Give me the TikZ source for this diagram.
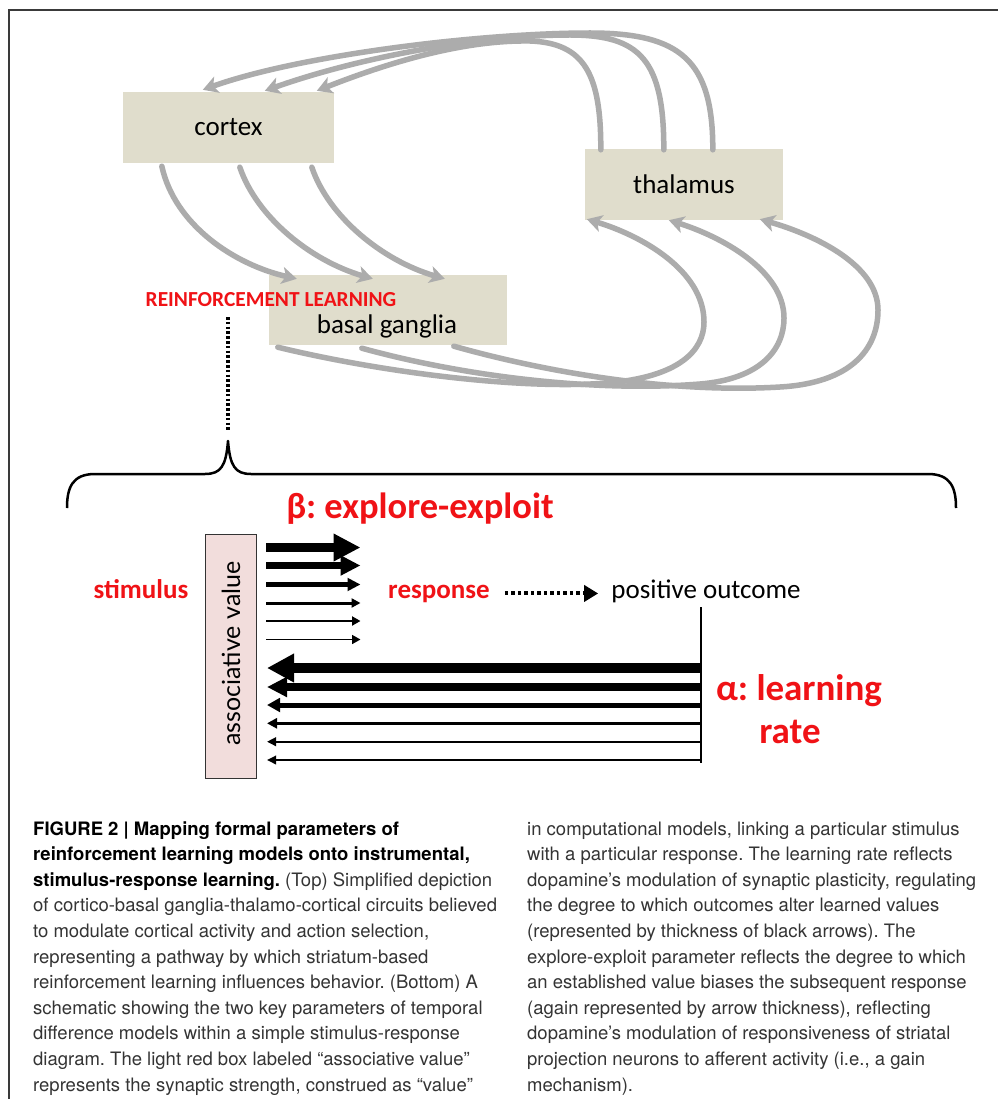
\documentclass[tikz,border=0pt]{standalone}
\usepackage{fontspec}
\usetikzlibrary{arrows.meta,calc}
\newfontfamily\diagfont{Carlito}
\newfontfamily\valuefont{Lato}
\newfontfamily\capfont{TeX Gyre Heros}
\newcommand{\fsz}[1]{\fontsize{#1}{#1}\selectfont}
\definecolor{boxfill}{RGB}{224,221,204}
\definecolor{arrowgray}{RGB}{172,172,172}
\definecolor{labelred}{RGB}{240,18,22}
\definecolor{valuefill}{RGB}{242,221,220}
\definecolor{captext}{RGB}{52,52,52}
\definecolor{framegray}{RGB}{58,58,58}
\frenchspacing

\begin{document}
\begin{tikzpicture}[x=1pt,y=-1pt,
  region/.style={fill=boxfill, inner sep=0pt, font=\diagfont\fsz{27}},
  pathway/.style={draw=arrowgray, line width=5.5pt, line cap=round,
    -{Stealth[length=15pt,width=17pt,inset=4pt]}},
  redlabel/.style={text=labelred, inner sep=0pt, anchor=base},
  plainlabel/.style={text=black, inner sep=0pt, anchor=base},
  capline/.style={anchor=base west, inner sep=0pt, text=captext,
    font=\capfont\fsz{18.5}},
  capbold/.style={capline, text=black, font=\capfont\bfseries\fsz{18.5}}
]
\useasboundingbox (0,0) rectangle (998,1099);
\fill[white] (0,0) rectangle (998,1099);

% page frame
\draw[framegray, line width=1.6pt] (9,1099) -- (9,10) -- (998,10);

% ---------- circuit: cortex, basal ganglia, thalamus ----------
\node[region, minimum width=211pt, minimum height=71pt] (cortex) at (228.5,127.5) {cortex};
\node[region, minimum width=198pt, minimum height=71pt] (thalamus) at (684,184.5) {thalamus};
\node[region, minimum width=238pt, minimum height=70pt] (bg) at (388,310) {};

% cortex -> basal ganglia
\coordinate (cs1) at ($(cortex.south west)+(39,3)$);
\coordinate (cs2) at ($(cortex.south west)+(117,4)$);
\coordinate (cs3) at ($(cortex.south west)+(189,4)$);
\coordinate (bt1) at ($(bg.north west)+(28,4)$);
\coordinate (bt2) at ($(bg.north west)+(104,4)$);
\coordinate (bt3) at ($(bg.north west)+(176,4)$);
\draw[pathway] (cs1) .. controls +(13,59) and +(-62,-14) .. (bt1);
\draw[pathway] (cs2) .. controls +(17,50) and +(-62,-18) .. (bt2);
\draw[pathway] (cs3) .. controls +(17,50) and +(-62,-18) .. (bt3);

% thalamus -> cortex
\coordinate (ts1) at ($(thalamus.north west)+(16,1)$);
\coordinate (ts2) at ($(thalamus.north west)+(79,1)$);
\coordinate (ts3) at ($(thalamus.north west)+(128,1)$);
\coordinate (ct1) at ($(cortex.north west)+(80,-2)$);
\coordinate (ct2) at ($(cortex.north west)+(142,-1)$);
\coordinate (ct3) at ($(cortex.north west)+(194,-1)$);
\draw[pathway] (ts3) .. controls (713,60) and (680,33) .. (590,33)
  .. controls (480,33) and (300,55) .. (ct1);
\draw[pathway] (ts2) .. controls (664,60) and (640,35) .. (570,35)
  .. controls (480,35) and (360,57) .. (ct2);
\draw[pathway] (ts1) .. controls (601,75) and (585,43) .. (530,41)
  .. controls (470,40) and (400,58) .. (ct3);

% basal ganglia -> thalamus
\coordinate (bs1) at ($(bg.south west)+(9,2)$);
\coordinate (bs2) at ($(bg.south west)+(93,3)$);
\coordinate (bs3) at ($(bg.south west)+(185,1)$);
\coordinate (tt1) at ($(thalamus.south west)+(2,-1)$);
\coordinate (tt2) at ($(thalamus.south west)+(84,0)$);
\coordinate (tt3) at ($(thalamus.south west)+(175,-1)$);
\draw[pathway] (bs1) .. controls (380,372) and (520,390) .. (607,383)
  .. controls (680,377) and (704,350) .. (704,322)
  .. controls (704,270) and (640,235) .. (tt1);
\draw[pathway] (bs2) .. controls (470,378) and (600,392) .. (700,384)
  .. controls (760,379) and (784,350) .. (784,318)
  .. controls (784,270) and (720,236) .. (tt2);
\draw[pathway] (bs3) .. controls (560,376) and (680,393) .. (780,387)
  .. controls (850,383) and (878,350) .. (878,310)
  .. controls (878,265) and (815,235) .. (tt3);

\node[plainlabel, font=\diagfont\fsz{27}] (bglabel) at (387,333) {basal ganglia};
\node[redlabel, font=\diagfont\bfseries\fsz{21.4}] (rl) at (271,306) {REINFORCEMENT LEARNING};

% dotted link from the label down to the brace
\coordinate (rltop) at (228,317);
\coordinate (bracetip) at (228,441);
\draw[line width=3.2pt, dash pattern=on 2.6pt off 2.2pt] (rltop) -- ($(bracetip)+(0,-11)$);

% brace over the stimulus-response scheme
\draw[line width=2.5pt, line join=round]
  (67,508) .. controls (67,488) and (72,474) .. (95,474) -- (205,474)
  .. controls (221,474) and (226,466) .. (bracetip)
  .. controls (230,466) and (235,474) .. (251,474) -- (928,474)
  .. controls (951,474) and (956,488) .. (956,508);

% ---------- stimulus-response scheme ----------
\node[redlabel, font=\diagfont\bfseries\fsz{36.5}] (beta) at (420,518) {β: explore-exploit};
\node[redlabel, font=\diagfont\bfseries\fsz{27}] (stimulus) at (141,598) {stimulus};
\node[draw=black!80, line width=1pt, fill=valuefill, inner sep=0pt,
  minimum width=51pt, minimum height=244pt] (assoc) at (230.5,656.5) {};
\node[rotate=90, inner sep=0pt, font=\valuefont\fsz{25}] (assoclabel) at (231,653.5) {associative value};
\node[redlabel, font=\diagfont\bfseries\fsz{27}] (response) at (439,598) {response};
\node[plainlabel, font=\diagfont\fsz{27}] (outcome) at (706,598) {positive outcome};
\draw[line width=4pt, dash pattern=on 3.5pt off 3pt,
  -{Triangle[length=14pt,width=16pt]}, shorten <=15pt, shorten >=13pt]
  (response.east) -- (response.east -| outcome.west);

% explore-exploit: value biases the response (thickness = gain)
\foreach \y/\lw/\hl/\hw [count=\i] in
  {547.5/8.5/27/26, 565.5/7.3/20/19, 584.5/4.3/13/12.5,
   603/3/9/9, 621/2.2/8.5/9, 639.5/1.6/8.5/9}{
  \coordinate (fs\i) at (266,\y);
  \coordinate (fe\i) at (360.5,\y);
  \draw[line width=\lw pt, -{Triangle[length=\hl pt,width=\hw pt]}] (fs\i) -- (fe\i);
}

% learning rate: outcome updates the value (thickness = rate)
\coordinate (vtop) at (701,607);
\coordinate (vbot) at (701,763);
\draw[line width=2.5pt] (vtop) -- (vbot);
\foreach \y/\lw/\hl/\hw [count=\i] in
  {668/10/27/27, 687/8/20/19, 705/5/13/13.5,
   723.3/3/10/10, 741.7/2.2/9/8.5, 760/1.8/9/8.5}{
  \coordinate (ls\i) at (701,\y);
  \coordinate (le\i) at (267,\y);
  \draw[line width=\lw pt, -{Triangle[length=\hl pt,width=\hw pt]}] (ls\i) -- (le\i);
}

\node[redlabel, font=\diagfont\bfseries\fsz{37}] (alpha) at (799,700) {α: learning};
\node[redlabel, font=\diagfont\bfseries\fsz{37}] (alpharate) at (790,743) {rate};

% ---------- caption ----------
\node[capbold] (l1) at (33,835) {FIGURE 2 | Mapping formal parameters of};
\node[capbold] (l2) at (33,860.6) {reinforcement learning models onto instrumental,};
\node[capline] (l3) at (33,886.2) {\textcolor{black}{\bfseries stimulus-response learning.} (Top) Simplified depiction};
\node[capline] (l4) at (33,911.8) {of cortico-basal ganglia-thalamo-cortical circuits believed};
\node[capline] (l5) at (33,937.4) {to modulate cortical activity and action selection,};
\node[capline] (l6) at (33,963) {representing a pathway by which striatum-based};
\node[capline] (l7) at (33,988.6) {reinforcement learning influences behavior. (Bottom) A};
\node[capline] (l8) at (33,1014.2) {schematic showing the two key parameters of temporal};
\node[capline] (l9) at (33,1039.8) {difference models within a simple stimulus-response};
\node[capline] (l10) at (33,1065.4) {diagram. The light red box labeled “associative value”};
\node[capline] (l11) at (33,1091) {represents the synaptic strength, construed as “value”};

\node[capline] (r1) at (527,835) {in computational models, linking a particular stimulus};
\node[capline] (r2) at (527,860.6) {with a particular response. The learning rate reflects};
\node[capline] (r3) at (527,886.2) {dopamine’s modulation of synaptic plasticity, regulating};
\node[capline] (r4) at (527,911.8) {the degree to which outcomes alter learned values};
\node[capline] (r5) at (527,937.4) {(represented by thickness of black arrows). The};
\node[capline] (r6) at (527,963) {explore-exploit parameter reflects the degree to which};
\node[capline] (r7) at (527,988.6) {an established value biases the subsequent response};
\node[capline] (r8) at (527,1014.2) {(again represented by arrow thickness), reflecting};
\node[capline] (r9) at (527,1039.8) {dopamine’s modulation of responsiveness of striatal};
\node[capline] (r10) at (527,1065.4) {projection neurons to afferent activity (i.e., a gain};
\node[capline] (r11) at (527,1091) {mechanism).};
\end{tikzpicture}
\end{document}
